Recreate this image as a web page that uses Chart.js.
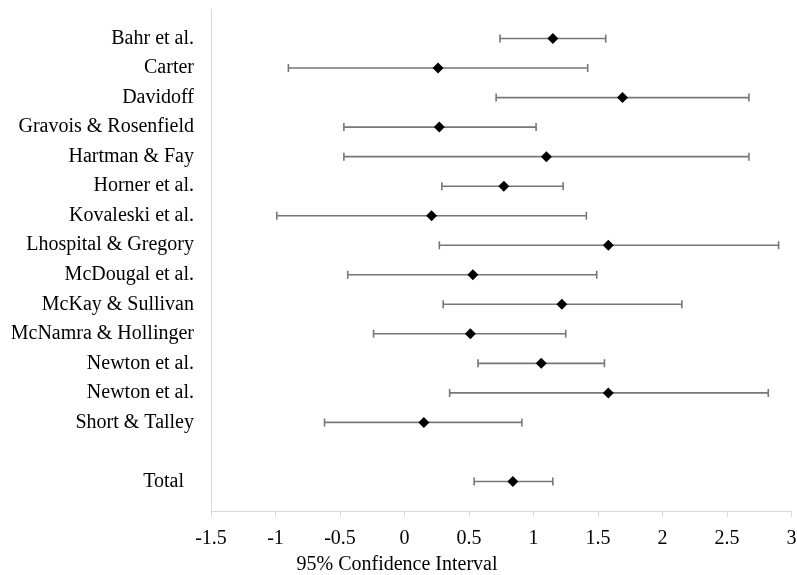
<!DOCTYPE html>
<html>
<head>
<meta charset="utf-8">
<script src="https://cdn.jsdelivr.net/npm/chart.js@4/dist/chart.umd.min.js"></script>
<style>
  html, body { margin: 0; padding: 0; background: #fff; }
  #wrap { width: 797px; height: 575px; }
</style>
</head>
<body>
<div id="wrap"><canvas id="forest"></canvas></div>
<script>
// Forest plot - study effect sizes with 95% CI

// rows from top to bottom, '' is the gap before the total
const studies = [
  'Bahr et al.', 'Carter', 'Davidoff', 'Gravois & Rosenfield', 'Hartman & Fay',
  'Horner et al.', 'Kovaleski et al.', 'Lhospital & Gregory', 'McDougal et al.',
  'McKay & Sullivan', 'McNamra & Hollinger', 'Newton et al.', 'Newton et al.',
  'Short & Talley', '', 'Total  '
];
const means  = [1.15, 0.26, 1.69, 0.27, 1.10, 0.77, 0.21, 1.58, 0.53, 1.22, 0.51, 1.06, 1.58, 0.15, null, 0.84];
const lowers = [0.74, -0.90, 0.71, -0.47, -0.47, 0.29, -0.99, 0.27, -0.44, 0.30, -0.24, 0.57, 0.35, -0.62, null, 0.54];
const uppers = [1.56, 1.42, 2.67, 1.02, 2.67, 1.23, 1.41, 2.90, 1.49, 2.15, 1.25, 1.55, 2.82, 0.91, null, 1.15];
const xTicks = [-1.5, -1, -0.5, 0, 0.5, 1, 1.5, 2, 2.5, 3];
const axisTitle = '95% Confidence Interval';

const FONT = "'Liberation Serif', 'Times New Roman', serif";
const rowCount = studies.length;
const rowValue = i => rowCount - i;

const points = [];
studies.forEach((s, i) => {
  if (means[i] !== null) points.push({ x: means[i], y: rowValue(i) });
});

// whiskers + caps drawn from lowers/uppers through the scales
const errorBars = {
  id: 'errorBars',
  beforeDatasetsDraw(chart) {
    const { ctx, scales: { x, y } } = chart;
    ctx.save();
    ctx.strokeStyle = '#777';
    ctx.lineWidth = 1.6;
    studies.forEach((s, i) => {
      if (lowers[i] === null) return;
      const py = y.getPixelForValue(rowValue(i));
      const x1 = x.getPixelForValue(lowers[i]);
      const x2 = x.getPixelForValue(uppers[i]);
      ctx.beginPath();
      ctx.moveTo(x1, py); ctx.lineTo(x2, py);
      ctx.moveTo(x1, py - 4); ctx.lineTo(x1, py + 4);
      ctx.moveTo(x2, py - 4); ctx.lineTo(x2, py + 4);
      ctx.stroke();
    });
    ctx.restore();
  }
};

// axis title sits left of centre in the original, so draw it by hand
const bottomTitle = {
  id: 'bottomTitle',
  afterDraw(chart) {
    const { ctx, scales: { x } } = chart;
    ctx.save();
    ctx.font = `20px ${FONT}`;
    ctx.fillStyle = '#000';
    ctx.textAlign = 'center';
    ctx.textBaseline = 'middle';
    ctx.fillText(axisTitle, x.left + 186, 565);
    ctx.restore();
  }
};

new Chart(document.getElementById('forest'), {
  type: 'scatter',
  data: {
    datasets: [{
      data: points,
      pointStyle: 'rectRot',
      pointRadius: 5.5,
      pointHoverRadius: 5.5,
      backgroundColor: '#000',
      borderColor: '#000',
      borderWidth: 0
    }]
  },
  options: {
    responsive: true,
    maintainAspectRatio: false,
    animation: false,
    layout: { padding: { top: 9, right: 1, bottom: 24, left: 0 } },
    plugins: { legend: { display: false }, tooltip: { enabled: false } },
    scales: {
      x: {
        type: 'linear',
        min: xTicks[0],
        max: xTicks[xTicks.length - 1],
        afterBuildTicks: scale => { scale.ticks = xTicks.map(v => ({ value: v })); },
        afterFit: scale => {
          scale.height = 40;
          scale.paddingLeft = 0;
          scale.paddingRight = 0;
        },
        grid: { drawOnChartArea: false, drawTicks: true, tickLength: 6, color: '#d9d9d9' },
        border: { color: '#d9d9d9', width: 1 },
        ticks: {
          color: '#000',
          padding: 10,
          maxRotation: 0,
          font: { family: FONT, size: 20 },
          callback: v => String(v)
        }
      },
      y: {
        type: 'linear',
        min: 0,
        max: rowCount + 1,
        afterBuildTicks: scale => { scale.ticks = studies.map((s, i) => ({ value: rowValue(i) })); },
        afterFit: scale => {
          scale.width = 211;
          scale.paddingTop = 0;
          scale.paddingBottom = 0;
        },
        grid: { display: false, drawTicks: false },
        border: { color: '#d9d9d9', width: 1 },
        ticks: {
          color: '#000',
          padding: 17,
          autoSkip: false,
          font: { family: FONT, size: 20 },
          callback: v => studies[rowCount - v] || ''
        }
      }
    }
  },
  plugins: [errorBars, bottomTitle]
});
</script>
</body>
</html>
